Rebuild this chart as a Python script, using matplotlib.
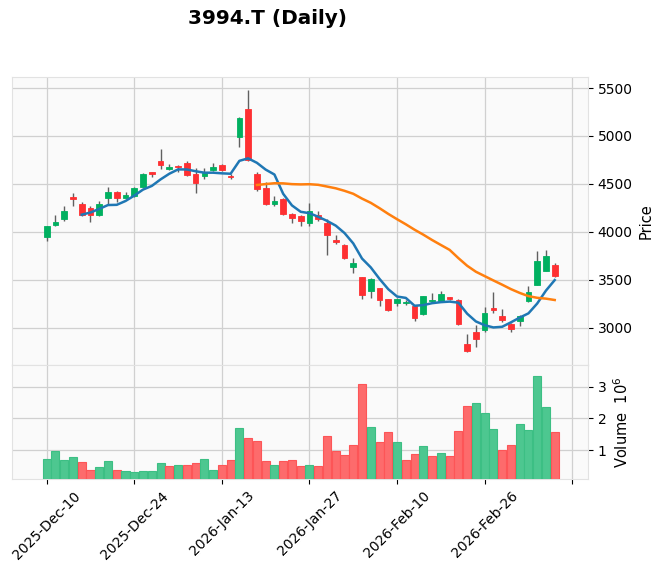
import matplotlib
matplotlib.use('Agg')
import matplotlib.pyplot as plt
from matplotlib.ticker import FuncFormatter
import numpy as np
import pandas as pd

dates = ['2025-12-10', '2025-12-11', '2025-12-12', '2025-12-15', '2025-12-16', '2025-12-17',
         '2025-12-18', '2025-12-19', '2025-12-22', '2025-12-23', '2025-12-24', '2025-12-25',
         '2025-12-26', '2025-12-29', '2025-12-30',
         '2026-01-05', '2026-01-06', '2026-01-07', '2026-01-08', '2026-01-09', '2026-01-13',
         '2026-01-14', '2026-01-15', '2026-01-16', '2026-01-19', '2026-01-20', '2026-01-21',
         '2026-01-22', '2026-01-23', '2026-01-26', '2026-01-27', '2026-01-28', '2026-01-29',
         '2026-01-30',
         '2026-02-02', '2026-02-03', '2026-02-04', '2026-02-05', '2026-02-06', '2026-02-09',
         '2026-02-10', '2026-02-12', '2026-02-13', '2026-02-16', '2026-02-17', '2026-02-18',
         '2026-02-19', '2026-02-20', '2026-02-24', '2026-02-25', '2026-02-26', '2026-02-27',
         '2026-03-02', '2026-03-03', '2026-03-04', '2026-03-05', '2026-03-06', '2026-03-09',
         '2026-03-10']

opens = [3945, 4070, 4131, 4362, 4287, 4252, 4177, 4355, 4415, 4355,
         4372, 4472, 4622, 4734, 4652, 4692, 4719, 4604, 4587, 4649,
         4701, 4587, 4993, 5278, 4601, 4455, 4288, 4344, 4188, 4167,
         4097, 4176, 4093, 3910, 3866, 3631, 3528, 3383, 3410, 3297,
         3259, 3262, 3224, 3138, 3277, 3274, 3316, 3292, 2833, 2955,
         2972, 3201, 3125, 3042, 3066, 3274, 3444, 3594, 3656]
highs = [4065, 4180, 4266, 4408, 4312, 4266, 4323, 4472, 4426, 4411,
         4465, 4613, 4628, 4862, 4709, 4700, 4740, 4663, 4670, 4715,
         4708, 4601, 5201, 5479, 4622, 4524, 4379, 4351, 4194, 4177,
         4303, 4217, 4131, 3969, 3872, 3731, 3530, 3517, 3412, 3299,
         3310, 3290, 3226, 3330, 3357, 3385, 3323, 3299, 2931, 3028,
         3212, 3375, 3194, 3044, 3136, 3431, 3802, 3812, 3674]
lows = [3900, 4062, 4113, 4266, 4160, 4103, 4170, 4294, 4312, 4348,
        4365, 4465, 4567, 4656, 4642, 4628, 4583, 4403, 4549, 4639,
        4632, 4552, 4882, 4740, 4431, 4281, 4271, 4174, 4090, 4066,
        4062, 4110, 3759, 3872, 3720, 3572, 3304, 3314, 3231, 3179,
        3231, 3235, 3072, 3128, 3253, 3264, 3292, 3028, 2747, 2802,
        2958, 3153, 3056, 2951, 3014, 3264, 3444, 3587, 3524]
closes = [4058, 4100, 4213, 4344, 4180, 4172, 4287, 4415, 4355, 4380,
          4454, 4600, 4606, 4695, 4676, 4680, 4597, 4514, 4618, 4677,
          4646, 4576, 5187, 4747, 4445, 4292, 4319, 4181, 4142, 4111,
          4220, 4131, 3969, 3893, 3724, 3679, 3341, 3507, 3293, 3186,
          3297, 3270, 3097, 3328, 3285, 3351, 3299, 3042, 2754, 2879,
          3153, 3184, 3076, 2986, 3125, 3375, 3698, 3750, 3535]
volumes = [720000, 980000, 690000, 790000, 625000, 375000, 480000, 670000, 375000, 354000,
           310000, 354000, 354000, 600000, 510000, 540000, 540000, 600000, 730000, 385000,
           540000, 700000, 1710000, 1385000, 1290000, 670000, 540000, 670000, 700000, 510000,
           540000, 510000, 1450000, 980000, 850000, 1170000, 3100000, 1730000, 1250000, 1570000,
           1260000, 700000, 885000, 1135000, 820000, 920000, 820000, 1600000, 2385000, 2480000,
           2170000, 1670000, 1010000, 1170000, 1820000, 1640000, 3350000, 2350000, 1570000]
mav_windows = [5, 25]
title = '3994.T (Daily)'

# ---- styling
UP, DOWN = '#00b060', '#fe3032'
VUP, VDOWN = '#4dc790', '#fd6b6c'
WICK = '#606060'
GRID = '#d0d0d0'
FACE = '#fafafa'
EDGE = '#e2e2e2'
MAV_COLORS = ['#1f77b4', '#ff7f0e']

o = np.array(opens, float); h = np.array(highs, float)
l = np.array(lows, float); c = np.array(closes, float)
v = np.array(volumes, float)
x = np.arange(len(dates))
dts = pd.to_datetime(dates)

W, H = 662, 572
fig = plt.figure(figsize=(W / 100, H / 100), dpi=100)
ax = fig.add_axes([12 / W, 1 - 365 / H, 576 / W, 288 / H])
axv = fig.add_axes([12 / W, 1 - 479 / H, 576 / W, 114 / H], sharex=ax)

for a in (ax, axv):
    a.set_facecolor(FACE)
    a.grid(True, color=GRID, linestyle='-', linewidth=0.9)
    a.set_axisbelow(True)
    for s in a.spines.values():
        s.set_color(EDGE)
    a.yaxis.tick_right()
    a.yaxis.set_label_position('right')
    a.tick_params(axis='y', labelsize=10, length=3.5, color='black')

# candles
up = o < c
bcol = np.where(up, UP, DOWN)
ax.vlines(x, l, h, color=WICK, linewidth=1.0, zorder=2)
ax.bar(x, np.abs(c - o), bottom=np.minimum(o, c), width=0.65,
       color=bcol, edgecolor=bcol, linewidth=0.6, zorder=3)

# moving averages
for w, col in zip(mav_windows, MAV_COLORS):
    ma = pd.Series(c).rolling(w).mean()
    ax.plot(x, ma, color=col, linewidth=1.8, zorder=4)

rng = h.max() - l.min()
ax.set_ylim(l.min() - 0.05 * rng, h.max() + 0.05 * rng)
ax.set_xlim(-3.96, 61.8)
ax.set_yticks([3000, 3500, 4000, 4500, 5000, 5500])
ax.set_ylabel('Price', fontsize=10.5)
ax.tick_params(axis='x', length=0, labelbottom=False)

# volume
vup = np.concatenate([[o[0] < c[0]], c[1:] > c[:-1]])
vcol = np.where(vup, VUP, VDOWN)
vedge = np.where(vup, '#3cbf84', '#fd5557')
axv.bar(x, v, width=0.92, color=vcol, edgecolor=vedge, linewidth=0.8, zorder=3)
axv.set_ylim(0.3 * v.min(), 1.1 * v.max())
axv.set_yticks([1e6, 2e6, 3e6])
axv.yaxis.set_major_formatter(FuncFormatter(lambda val, p: f'{val / 1e6:g}'))
axv.set_ylabel('Volume  $10^{6}$', fontsize=10.5)

ticks = list(range(0, 61, 10))
labels = [dts[i].strftime('%Y-%b-%d') if i < len(dts) else '' for i in ticks]
axv.set_xticks(ticks)
axv.set_xticklabels(labels, rotation=45, ha='center', fontsize=10)
axv.tick_params(axis='x', length=3.5, color='black')

fig.text(267.5 / W, 1 - 18.5 / H, title, ha='center', va='center',
         fontsize=14.4, fontweight='bold')

fig.savefig('out.png', dpi=100)
